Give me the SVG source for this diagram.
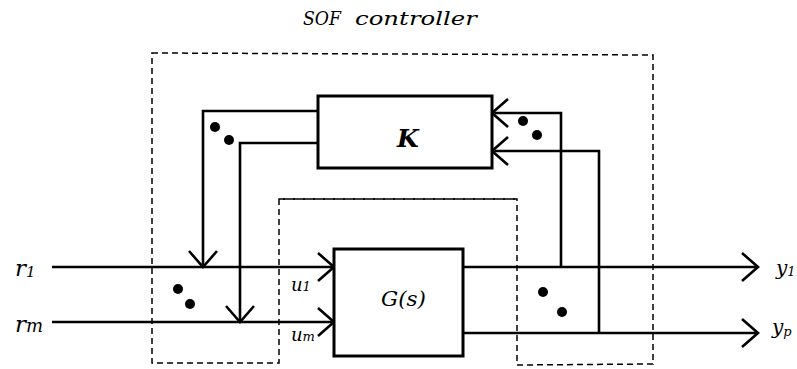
<svg xmlns="http://www.w3.org/2000/svg" width="797" height="369" viewBox="0 0 797 369">
<style>
.dash{fill:none;stroke:#000;stroke-width:1.5;stroke-dasharray:6,4}
.box{fill:#fff;stroke:#000;stroke-width:3}
.ln{fill:none;stroke:#000;stroke-width:2.6}
.t{font-family:"DejaVu Serif","Liberation Serif",serif;font-style:italic;fill:#000}
.dot{fill:#000}
</style>
<defs>
<marker id="chev" markerUnits="userSpaceOnUse" viewBox="-18 -16 20 32" markerWidth="20" markerHeight="32" refX="0" refY="0" orient="auto" overflow="visible">
<path d="M-16,-14 L0,0 L-16,14" fill="none" stroke="#000" stroke-width="2.6"/>
</marker>
</defs>
<rect width="797" height="369" fill="#fff"/>
<g id="title">
<text class="t" x="303" y="25" font-size="19" textLength="38" lengthAdjust="spacingAndGlyphs">SOF</text>
<text class="t" x="355" y="25" font-size="19" textLength="122" lengthAdjust="spacingAndGlyphs">controller</text>
</g>
<g id="controller-boundary">
<path class="dash" d="M152,53 L653,55 L653,364 L517,365 L517,199 L279,199 L279,363 L152,363 Z"/>
</g>
<g id="plant-boundary">
<path class="dash" d="M279,199 L517,199"/>
</g>
<g id="connectors">
<path class="ln" d="M52,267 H334" marker-end="url(#chev)"/>
<path class="ln" d="M52,322 H334" marker-end="url(#chev)"/>
<path class="ln" d="M318,111 H203 V267" marker-end="url(#chev)"/>
<path class="ln" d="M318,143 H240 V322" marker-end="url(#chev)"/>
<path class="ln" d="M463,267 H758" marker-end="url(#chev)"/>
<path class="ln" d="M463,333 H758" marker-end="url(#chev)"/>
<path class="ln" d="M561,267 V113 H492" marker-end="url(#chev)"/>
<path class="ln" d="M599,333 V151 H492" marker-end="url(#chev)"/>
</g>
<g id="K">
<rect class="box" x="318" y="96" width="174" height="72"/>
<text class="t" x="397" y="147" font-size="25" font-weight="bold">K</text>
</g>
<g id="G">
<rect class="box" x="334" y="249" width="129" height="107"/>
<text class="t" x="381" y="306" font-size="21" textLength="45" lengthAdjust="spacingAndGlyphs">G(s)</text>
</g>
<g id="dots">
<circle class="dot" cx="215" cy="127" r="5"/>
<circle class="dot" cx="229" cy="140" r="5"/>
<circle class="dot" cx="523" cy="121" r="5"/>
<circle class="dot" cx="537" cy="135" r="5"/>
<circle class="dot" cx="178" cy="289" r="5"/>
<circle class="dot" cx="190" cy="304" r="5"/>
<circle class="dot" cx="543" cy="292" r="5"/>
<circle class="dot" cx="562" cy="312" r="5"/>
</g>
<g id="labels">
<text class="t" x="15" y="276" font-size="23">r<tspan font-size="15" dy="1">1</tspan></text>
<text class="t" x="15" y="332" font-size="23">r<tspan font-size="18" dy="0">m</tspan></text>
<text class="t" x="291" y="291" font-size="18">u<tspan font-size="13" dy="0">1</tspan></text>
<text class="t" x="291" y="341" font-size="18">u<tspan font-size="13" dy="0">m</tspan></text>
<text class="t" x="776" y="275" font-size="20">y<tspan font-size="13" dy="1">1</tspan></text>
<text class="t" x="772" y="334" font-size="20">y<tspan font-size="13" dy="2">p</tspan></text>
</g>
</svg>
